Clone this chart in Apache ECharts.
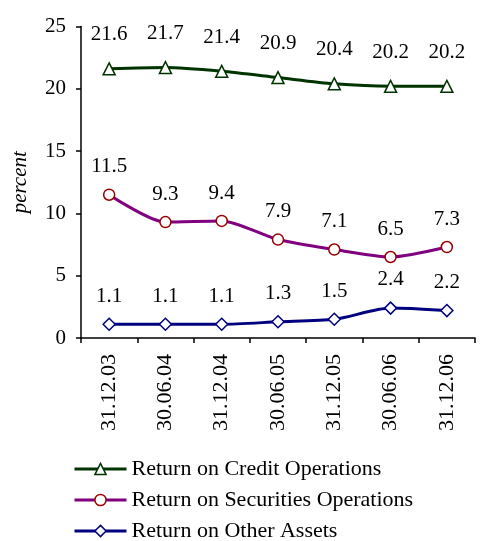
<!DOCTYPE html>
<html><head><meta charset="utf-8">
<script src="https://cdn.jsdelivr.net/npm/echarts@6/dist/echarts.min.js"></script>
<style>html,body{margin:0;padding:0;background:#fff}#c{width:480px;height:541px}</style>
</head><body><div id="c"></div>
<script>
const categories = ['31.12.03','30.06.04','31.12.04','30.06.05','31.12.05','30.06.06','31.12.06'];
const creditReturn = [21.6, 21.7, 21.4, 20.9, 20.4, 20.2, 20.2];
const securitiesReturn = [11.5, 9.3, 9.4, 7.9, 7.1, 6.5, 7.3];
const otherReturn = [1.1, 1.1, 1.1, 1.3, 1.5, 2.4, 2.2];
const yTicks = [0, 5, 10, 15, 20, 25];

const FONT = '"Liberation Serif", "Times New Roman", serif';
const FS = 21;
const chart = echarts.init(document.getElementById('c'));
function mk(name, data, lineColor, markColor, symbol, size, dist) {
  return {
    name, type: 'line', data, smooth: 0.25,
    symbol, symbolSize: size,
    lineStyle: {color: lineColor, width: 3},
    itemStyle: {color: '#fff', borderColor: markColor, borderWidth: 1.5},
    label: {show: true, position: 'top', distance: dist, fontFamily: FONT, fontSize: FS, color: '#000',
      formatter: p => p.value.toFixed(1)},
    emphasis: {disabled: true}, z: 3
  };
}
chart.setOption({
  animation: false,
  textStyle: {fontFamily: FONT},
  grid: {left: 81, right: 5, top: 26.5, height: 311.5, containLabel: false},
  xAxis: {
    type: 'category', data: categories, boundaryGap: true,
    axisLine: {lineStyle: {color: '#000', width: 1.5}},
    axisTick: {show: true, length: 5, inside: false, lineStyle: {color: '#000', width: 1.5}, alignWithLabel: false},
    axisLabel: {rotate: 90, fontFamily: FONT, fontSize: 22, color: '#000', margin: 16, interval: 0}
  },
  yAxis: {
    type: 'value', min: yTicks[0], max: yTicks[yTicks.length-1], interval: 5,
    name: 'percent', nameLocation: 'middle', nameGap: 50, nameRotate: 90,
    nameTextStyle: {fontFamily: FONT, fontSize: FS, fontStyle: 'italic', color: '#000'},
    splitLine: {show: false},
    axisLine: {show: true, lineStyle: {color: '#000', width: 1.5}},
    axisTick: {show: true, length: 5, lineStyle: {color: '#000', width: 1.5}},
    axisLabel: {fontFamily: FONT, fontSize: FS, color: '#000', margin: 15}
  },
  legend: {
    orient: 'vertical', left: 68, top: 453, height: 90, itemGap: 9,
    itemWidth: 52, itemHeight: 14,
    lineStyle: {width: 3},
    itemStyle: {borderWidth: 1.5},
    textStyle: {fontFamily: FONT, fontSize: 22, color: '#000'},
    data: ['Return on Credit Operations', 'Return on Securities Operations', 'Return on Other Assets']
  },
  series: [
    mk('Return on Credit Operations', creditReturn, '#003300', '#003300', 'triangle', 12, 17),
    mk('Return on Securities Operations', securitiesReturn, '#800080', '#990000', 'circle', 11, 11),
    mk('Return on Other Assets', otherReturn, '#000080', '#000080', 'diamond', 12, 11)
  ]
});
</script></body></html>
